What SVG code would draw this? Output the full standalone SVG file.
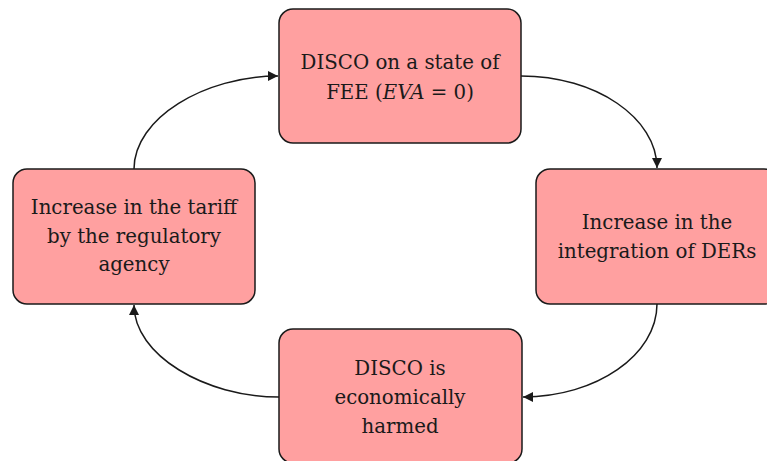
<svg xmlns="http://www.w3.org/2000/svg" width="767" height="461" viewBox="0 0 767 461">
<style>
.box{fill:#FFA0A0;stroke:#1a1a1a;stroke-width:1.5}
.t{font-family:"DejaVu Serif",serif;font-size:19.8px;fill:#1a1a1a;text-anchor:middle}
.c{fill:none;stroke:#1a1a1a;stroke-width:1.5}
</style>
<defs>
<marker id="ah" viewBox="0 0 10 10" refX="10" refY="5" markerWidth="10" markerHeight="10" markerUnits="userSpaceOnUse" orient="auto">
<path d="M0,0 L10,5 L0,10 z" fill="#1a1a1a"/>
</marker>
</defs>
<rect width="767" height="461" fill="#ffffff"/>
<g id="connectors">
<path class="c" d="M521,76 C596,76 657,118 657,168" marker-end="url(#ah)"/>
<path class="c" d="M657,304 C657,355 596,397 523,397" marker-end="url(#ah)"/>
<path class="c" d="M279,397 C205,397 134,355 134,305" marker-end="url(#ah)"/>
<path class="c" d="M134,169 C134,118 205,76 278,76" marker-end="url(#ah)"/>
</g>
<g id="node-fee">
<rect class="box" x="279" y="9" width="242" height="134" rx="14"/>
<text class="t" x="400" y="69">DISCO on a state of</text>
<text class="t" x="400" y="99">FEE (<tspan font-style="italic">EVA</tspan> = 0)</text>
</g>
<g id="node-ders">
<rect class="box" x="536" y="169" width="242" height="135" rx="14"/>
<text class="t" x="657" y="229">Increase in the</text>
<text class="t" x="657" y="258">integration of DERs</text>
</g>
<g id="node-harmed">
<rect class="box" x="279" y="329" width="243" height="134" rx="14"/>
<text class="t" x="400" y="375">DISCO is</text>
<text class="t" x="400" y="404">economically</text>
<text class="t" x="400" y="433">harmed</text>
</g>
<g id="node-tariff">
<rect class="box" x="13" y="169" width="242" height="135" rx="14"/>
<text class="t" x="134" y="214">Increase in the tariff</text>
<text class="t" x="134" y="243">by the regulatory</text>
<text class="t" x="134" y="271">agency</text>
</g>
</svg>
